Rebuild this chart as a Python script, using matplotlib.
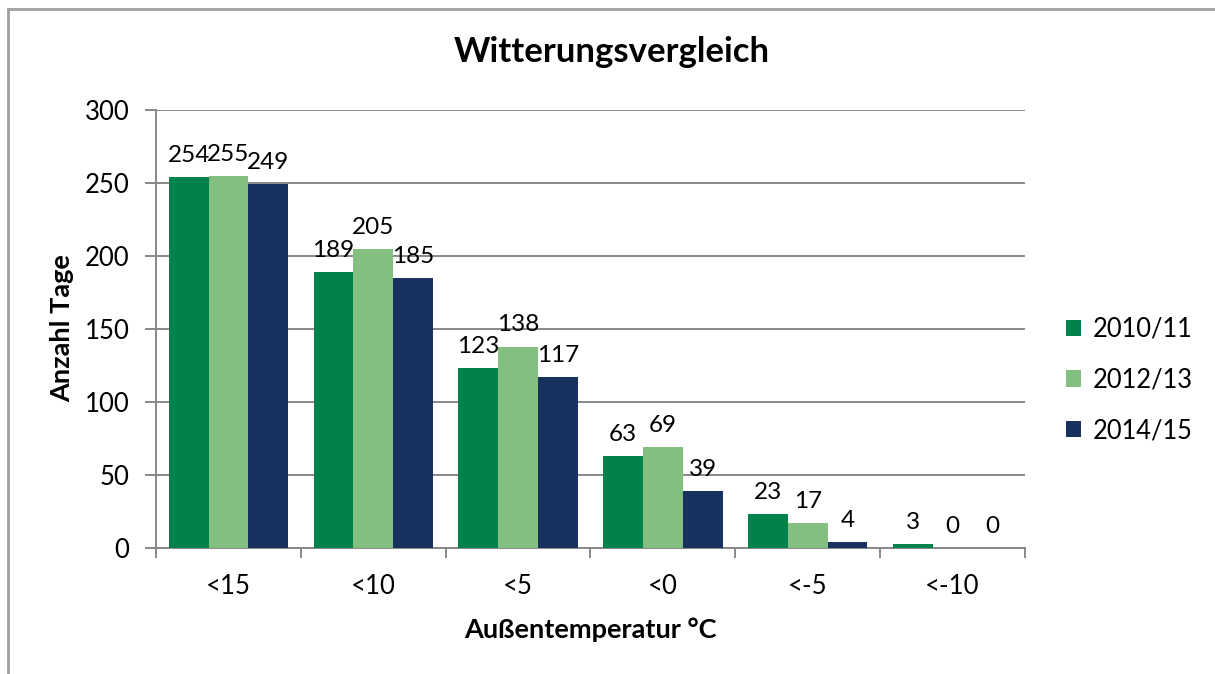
import matplotlib
matplotlib.use("Agg")
import matplotlib.pyplot as plt
import numpy as np
from matplotlib.lines import Line2D
from matplotlib.patches import Patch

categories = ["<15", "<10", "<5", "<0", "<-5", "<-10"]
series_names = ["2010/11", "2012/13", "2014/15"]
values_2010 = [254, 189, 123, 63, 23, 3]
values_2012 = [255, 205, 138, 69, 17, 0]
values_2014 = [249, 185, 117, 39, 4, 0]
colors = ["#00824A", "#82BF80", "#17325F"]
yticks = [0, 50, 100, 150, 200, 250, 300]

plt.rcParams["font.family"] = ["Lato", "DejaVu Sans"]

W, H = 1215, 674
fig = plt.figure(figsize=(W / 100, H / 100), dpi=100)
fig.patch.set_facecolor("white")

# outer chart frame (left and top edges)
frame_color = "#A0A0A0"
fig.add_artist(Line2D([8 / W, 8 / W], [0, 1 - 9 / H], transform=fig.transFigure,
                      color=frame_color, lw=2))
fig.add_artist(Line2D([8 / W, 1], [1 - 9 / H, 1 - 9 / H], transform=fig.transFigure,
                      color=frame_color, lw=2))

left, right, top, bottom = 156, 1025, 110, 548
ax = fig.add_axes([left / W, 1 - bottom / H, (right - left) / W, (bottom - top) / H])

x = np.arange(len(categories))
bw = 0.275
all_series = [values_2010, values_2012, values_2014]
for i, (vals, c, name) in enumerate(zip(all_series, colors, series_names)):
    pos = x + (i - 1) * bw
    ax.bar(pos, vals, width=bw, color=c, zorder=3, label=name)
    for px, v in zip(pos, vals):
        ax.annotate(str(v), (px, v), xytext=(0, 8), textcoords="offset points",
                    ha="center", va="bottom", fontsize=17.5, color="black")

ax.set_xlim(-0.5, len(categories) - 0.5)
ax.set_ylim(0, 300)
ax.set_yticks(yticks)
ax.set_yticklabels([str(t) for t in yticks], fontsize=18.5)
ax.yaxis.grid(True, color="#888888", lw=1.4, zorder=0)
ax.set_axisbelow(True)

ax.set_xticks(x)
ax.set_xticklabels(categories, fontsize=18.5)
ax.set_xticks(np.arange(-0.5, len(categories) + 0.5, 1), minor=True)
ax.tick_params(axis="x", which="major", length=0, pad=19)
ax.tick_params(axis="x", which="minor", length=7, width=1.4, color="#888888")
ax.tick_params(axis="y", length=8, width=1.4, color="#888888", pad=11)

for s in ["top", "right"]:
    ax.spines[s].set_visible(False)
for s in ["left", "bottom"]:
    ax.spines[s].set_color("#888888")
    ax.spines[s].set_linewidth(1.4)

ax.set_ylabel("Anzahl Tage", fontsize=19.5, fontweight="bold")
ax.yaxis.set_label_coords(62 / W, 1 - 328 / H, transform=fig.transFigure)
ax.set_xlabel("Außentemperatur °C", fontsize=19.5, fontweight="bold")
ax.xaxis.set_label_coords(590 / W, 1 - 630 / H, transform=fig.transFigure)
ax.xaxis.label.set_va("center")
ax.yaxis.label.set_va("center")
fig.text(612 / W, 1 - 52 / H, "Witterungsvergleich",
         ha="center", va="center", fontsize=25, fontweight="bold")

handles = [Patch(facecolor=c) for c in colors]
fig.legend(handles, series_names, loc="center left",
           bbox_to_anchor=(1066 / W, 1 - 380 / H), frameon=False, fontsize=18.4,
           handlelength=0.6, handleheight=0.6, handletextpad=0.45, labelspacing=1.0,
           borderaxespad=0, borderpad=0)

fig.savefig("out.png", dpi=100, facecolor="white")
